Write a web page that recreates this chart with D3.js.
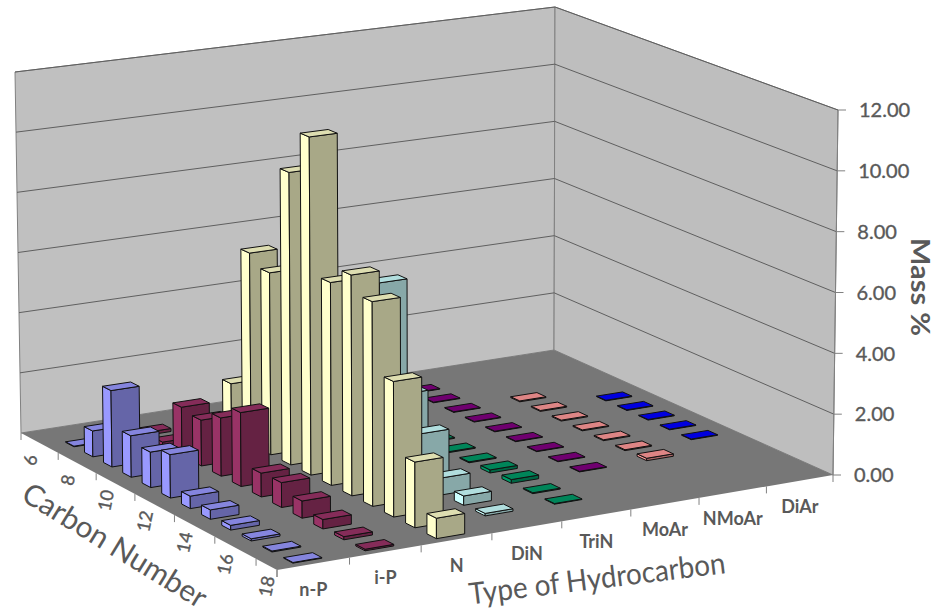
<!DOCTYPE html>
<html lang="en">

<head>
    <meta charset="UTF-8">
    <title>Mass % by Carbon Number and Type of Hydrocarbon</title>
    <script src="https://d3js.org/d3.v7.min.js"></script>
    <style>
        html, body { margin: 0; background: #fff; }
        svg { display: block; }
        text { font-family: Lato, "Open Sans", sans-serif; fill: #595959; }
    </style>
</head>

<body>
    <div id="chart"></div>

    <script>
        const carbonNumbers = [6, 7, 8, 9, 10, 11, 12, 13, 14, 15, 16, 17, 18];
        const hydrocarbonTypes = ["n-P", "i-P", "N", "DiN", "TriN", "MoAr", "NMoAr", "DiAr"];
        const massTicks = [0, 2, 4, 6, 8, 10, 12];

        // mass % per carbon number, null = no bar
        const nP = [null, 0.02, 0.85, 2.5, 1.35, 1.15, 1.4, 0.4, 0.3, 0.15, 0.07, 0.03, 0.02];
        const iP = [null, 0.1, 0.12, 1.6, 1.5, 1.9, 2.4, 0.77, 0.8, 0.55, 0.3, 0.1, 0.05];
        const naph = [null, null, 1.7, 6.35, 6.0, 9.6, 11.05, 6.6, 7.15, 6.6, 4.35, 2.1, 0.65];
        const diN = [null, null, null, null, null, null, 5.95, 2.6, 1.65, 0.55, 0.3, 0.08, null];
        const triN = [null, null, null, null, null, 0.03, 0.03, 0.03, 0.1, 0.12, 0.03, 0.02, null];
        const moAr = [null, 0.02, 0.02, 0.02, 0.02, 0.02, 0.02, 0.02, 0.02, 0.02, null, null, null];
        const nMoAr = [null, null, null, 0.03, 0.03, 0.03, 0.03, 0.03, 0.03, 0.08, null, null, null];
        const diAr = [null, null, null, null, 0.02, 0.02, 0.02, 0.02, 0.02, null, null, null, null];

        const seriesValues = [nP, iP, naph, diN, triN, moAr, nMoAr, diAr];
        const seriesColors = ["#9999ff", "#993366", "#ffffcc", "#ccffff", "#009966", "#800080", "#ff9999", "#0000ff"];

        const width = 939;
        const height = 615;

        const svg = d3.select("#chart")
            .append("svg")
            .attr("width", width)
            .attr("height", height);

        // scales go to the unit cube of the chart box, project() then goes to the page
        const u = d3.scaleBand().domain(hydrocarbonTypes).range([0, 1]).paddingInner(0.6).paddingOuter(0.3);
        const v = d3.scaleBand().domain(carbonNumbers).range([0, 1]).paddingInner(0.56).paddingOuter(0.28);
        const z = d3.scaleLinear().domain([0, 12]).range([0, 1]);

        // floor corners as seen in the page
        const left = [21, 433], back = [554, 350], front = [277, 570], right = [833, 475];
        // how far the wall top sits from the floor at each corner
        const riseLeft = [-6, -361], riseBack = [1, -343], riseRight = [5, -365], riseFront = [-2, -383];

        // unit square -> quad homography
        const dx1 = back[0] - right[0], dx2 = front[0] - right[0], sx = left[0] - back[0] + right[0] - front[0];
        const dy1 = back[1] - right[1], dy2 = front[1] - right[1], sy = left[1] - back[1] + right[1] - front[1];
        const det = dx1 * dy2 - dx2 * dy1;
        const g = (sx * dy2 - dx2 * sy) / det;
        const h = (dx1 * sy - sx * dy1) / det;

        function project(a, b, c) {
            const w = g * a + h * b + 1;
            const fx = ((back[0] - left[0] + g * back[0]) * a + (front[0] - left[0] + h * front[0]) * b + left[0]) / w;
            const fy = ((back[1] - left[1] + g * back[1]) * a + (front[1] - left[1] + h * front[1]) * b + left[1]) / w;
            const mix = i => (1 - a) * (1 - b) * riseLeft[i] + a * (1 - b) * riseBack[i] + (1 - a) * b * riseFront[i] + a * b * riseRight[i];
            return [fx + c * mix(0), fy + c * mix(1)];
        }

        const poly = d3.line().curve(d3.curveLinearClosed);

        function shade(color, k) {
            const c = d3.rgb(color);
            return d3.rgb(c.r * k, c.g * k, c.b * k).formatHex();
        }

        // walls and floor
        svg.append("path").attr("fill", "#c0c0c0").attr("stroke", "#808080")
            .attr("d", poly([project(0, 0, 0), project(1, 0, 0), project(1, 0, 1), project(0, 0, 1)]));
        svg.append("path").attr("fill", "#bebebe").attr("stroke", "#808080")
            .attr("d", poly([project(1, 0, 0), project(1, 1, 0), project(1, 1, 1), project(1, 0, 1)]));
        svg.append("path").attr("fill", "#777777")
            .attr("d", poly([project(0, 0, 0), project(1, 0, 0), project(1, 1, 0), project(0, 1, 0)]));

        // gridlines
        const grid = svg.append("g").attr("fill", "none").attr("stroke", "#5f5f5f").attr("stroke-width", 1);
        massTicks.filter(d => d > 0).forEach(d => {
            grid.append("path").attr("d", d3.line()([project(0, 0, z(d)), project(1, 0, z(d)), project(1, 1, z(d))]));
        });

        // mass axis
        const axisColor = "#808080";
        svg.append("line").attr("stroke", axisColor)
            .attr("x1", project(1, 1, 0)[0]).attr("y1", project(1, 1, 0)[1])
            .attr("x2", project(1, 1, 1)[0]).attr("y2", project(1, 1, 1)[1]);
        const massAxis = svg.append("g").selectAll("g").data(massTicks).join("g")
            .attr("transform", d => `translate(${project(1, 1, z(d))})`);
        massAxis.append("line").attr("x2", 8).attr("stroke", axisColor);
        massAxis.append("text")
            .attr("x", 21).attr("dy", "0.36em")
            .attr("font-size", 20).attr("stroke", "#595959").attr("stroke-width", 0.35)
            .text(d => d.toFixed(2));

        // carbon axis, a tick every second band
        const carbonStep = v.step();
        const carbonTicks = d3.range(0, carbonNumbers.length + 1, 2).concat([carbonNumbers.length]);
        svg.append("g").selectAll("line").data(carbonTicks).join("line")
            .attr("stroke", axisColor)
            .attr("x1", d => project(0, d * carbonStep, 0)[0]).attr("y1", d => project(0, d * carbonStep, 0)[1])
            .attr("x2", d => project(0, d * carbonStep, 0)[0]).attr("y2", d => project(0, d * carbonStep, 0)[1] + 7);
        svg.append("g").selectAll("text").data(carbonNumbers.filter(d => d % 2 === 0)).join("text")
            .attr("transform", d => {
                const p = project(0, v(d) + v.bandwidth() / 2, 0);
                return `translate(${p[0]},${p[1] + 22}) rotate(-78)`;
            })
            .attr("text-anchor", "middle").attr("dy", "0.36em")
            .attr("font-size", 18).attr("stroke", "#595959").attr("stroke-width", 0.35)
            .text(d => d);

        // type axis
        const typeStep = u.step();
        svg.append("g").selectAll("line").data(d3.range(hydrocarbonTypes.length + 1)).join("line")
            .attr("stroke", axisColor)
            .attr("x1", d => project(d * typeStep, 1, 0)[0]).attr("y1", d => project(d * typeStep, 1, 0)[1])
            .attr("x2", d => project(d * typeStep, 1, 0)[0]).attr("y2", d => project(d * typeStep, 1, 0)[1] + 7);
        svg.append("g").selectAll("text").data(hydrocarbonTypes).join("text")
            .attr("x", d => project(u(d) + u.bandwidth() / 2, 1, 0)[0])
            .attr("y", d => project(u(d) + u.bandwidth() / 2, 1, 0)[1] + 26)
            .attr("text-anchor", "middle").attr("dy", "0.36em")
            .attr("font-size", 18).attr("font-weight", 700)
            .text(d => d);

        // bars, far ones first
        const bars = [];
        hydrocarbonTypes.forEach((type, i) => {
            carbonNumbers.forEach((carbon, j) => {
                const value = seriesValues[i][j];
                if (value !== null) bars.push({ type, carbon, value, color: seriesColors[i], i, j });
            });
        });
        bars.sort((a, b) => b.i - a.i || a.j - b.j);

        const barGroups = svg.append("g")
            .attr("stroke", "#111").attr("stroke-width", 1).attr("stroke-linejoin", "round")
            .selectAll("g").data(bars).join("g");

        barGroups.each(function (d) {
            const u0 = u(d.type), u1 = u0 + u.bandwidth();
            const v0 = v(d.carbon), v1 = v0 + v.bandwidth();
            const t = z(d.value);
            const g = d3.select(this);
            // narrow lit side
            g.append("path").attr("fill", d.color)
                .attr("d", poly([project(u0, v0, 0), project(u0, v1, 0), project(u0, v1, t), project(u0, v0, t)]));
            // wide dark side
            g.append("path").attr("fill", shade(d.color, 0.66))
                .attr("d", poly([project(u0, v1, 0), project(u1, v1, 0), project(u1, v1, t), project(u0, v1, t)]));
            // top
            g.append("path").attr("fill", shade(d.color, 0.87))
                .attr("d", poly([project(u0, v0, t), project(u1, v0, t), project(u1, v1, t), project(u0, v1, t)]));
        });

        // axis titles
        svg.append("text")
            .attr("transform", "translate(115,545) rotate(31.5)")
            .attr("text-anchor", "middle").attr("dy", "0.36em")
            .attr("font-size", 30).attr("textLength", 210).attr("lengthAdjust", "spacingAndGlyphs")
            .text("Carbon Number");
        svg.append("text")
            .attr("transform", "translate(597,578) rotate(-7)")
            .attr("text-anchor", "middle").attr("dy", "0.36em")
            .attr("font-size", 30).attr("textLength", 258).attr("lengthAdjust", "spacingAndGlyphs")
            .text("Type of Hydrocarbon");
        svg.append("text")
            .attr("transform", "translate(920,287) rotate(90)")
            .attr("text-anchor", "middle").attr("dy", "0.36em")
            .attr("font-size", 26).attr("font-weight", 700).attr("textLength", 98).attr("lengthAdjust", "spacingAndGlyphs")
            .text("Mass %");
    </script>
</body>

</html>
